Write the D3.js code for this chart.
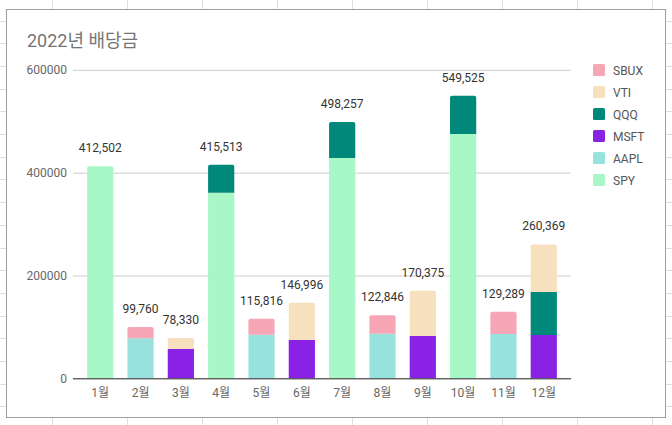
<!DOCTYPE html>
<html>
<head>
<meta charset="utf-8">
<script src="https://cdn.jsdelivr.net/npm/d3@7"></script>
<style>
  body { margin: 0; background: #fff; }
  svg { display: block; font-family: Roboto, "Noto Sans CJK KR", sans-serif; }
</style>
</head>
<body>
<svg id="chart"></svg>
<script>
// months on the x axis
var months = ["1월", "2월", "3월", "4월", "5월", "6월", "7월", "8월", "9월", "10월", "11월", "12월"];

// dividends per ticker (stack order bottom -> top)
var SPY  = [412502, 0, 0, 361000, 0, 0, 428400, 0, 0, 475100, 0, 0];
var AAPL = [0, 77800, 0, 0, 84800, 0, 0, 86700, 0, 0, 86200, 0];
var MSFT = [0, 0, 57000, 0, 0, 74500, 0, 0, 82300, 0, 0, 84200];
var QQQ  = [0, 0, 0, 54513, 0, 0, 69857, 0, 0, 74425, 0, 83600];
var VTI  = [0, 0, 21330, 0, 0, 72496, 0, 0, 88075, 0, 0, 92569];
var SBUX = [0, 21960, 0, 0, 31016, 0, 0, 36146, 0, 0, 43089, 0];

var totals = [412502, 99760, 78330, 415513, 115816, 146996, 498257, 122846, 170375, 549525, 129289, 260369];
var yTicks = [0, 200000, 400000, 600000];

var keys = ["SPY", "AAPL", "MSFT", "QQQ", "VTI", "SBUX"];
var legendKeys = ["SBUX", "VTI", "QQQ", "MSFT", "AAPL", "SPY"];
var colors = {
  SBUX: "#f7a6b6",
  VTI: "#f6e0bd",
  QQQ: "#00897b",
  MSFT: "#8a22e5",
  AAPL: "#98e2dd",
  SPY: "#a8f7c6"
};

var width = 672, height = 425;

var svg = d3.select("#chart")
  .attr("width", width)
  .attr("height", height);

// spreadsheet grid behind the chart
var sheet = svg.append("g").attr("stroke", "#dedede").attr("stroke-width", 1);
d3.range(52.5, width, 75).forEach(function(x) {
  sheet.append("line").attr("x1", x).attr("x2", x).attr("y1", 0).attr("y2", height);
});
d3.range(20.5, height, 22.7).forEach(function(y) {
  sheet.append("line").attr("x1", 0).attr("x2", width).attr("y1", Math.round(y) + 0.5).attr("y2", Math.round(y) + 0.5);
});

// chart frame
svg.append("rect")
  .attr("x", 6.5)
  .attr("y", 9.5)
  .attr("width", 659)
  .attr("height", 408)
  .attr("fill", "#fff")
  .attr("stroke", "#9e9e9e");

svg.append("text")
  .attr("x", 27)
  .attr("y", 47)
  .style("font-size", "18px")
  .style("fill", "#757575")
  .text("2022년 배당금");

// build table for the stack
var table = months.map(function(m, i) {
  return { month: m, SPY: SPY[i], AAPL: AAPL[i], MSFT: MSFT[i], QQQ: QQQ[i], VTI: VTI[i], SBUX: SBUX[i], total: totals[i] };
});

var x = d3.scaleBand()
  .domain(months)
  .range([73, 571])
  .paddingInner(0.35)
  .paddingOuter(0.35);

var y = d3.scaleLinear()
  .domain([0, 600000])
  .range([378.3, 69.8]);

// gridlines + y labels
var yAxis = svg.append("g")
  .attr("transform", "translate(73,0)")
  .call(d3.axisLeft(y).tickValues(yTicks).tickSize(-498).tickFormat(d3.format("d")).tickPadding(6));
yAxis.select(".domain").remove();
yAxis.selectAll(".tick line").attr("stroke", "#cccccc");
yAxis.selectAll(".tick text")
  .style("font-size", "12px")
  .style("fill", "#666")
  .style("font-family", "Roboto, sans-serif");

var stack = d3.stack().keys(keys)(table);

// index of top non-zero layer for each month
var topKey = table.map(function(d) {
  var t = null;
  keys.forEach(function(k) { if (d[k] > 0) t = k; });
  return t;
});

function barPath(x0, y0, w, h, r) {
  return "M" + x0 + "," + (y0 + h) +
    "V" + (y0 + r) +
    "Q" + x0 + "," + y0 + " " + (x0 + r) + "," + y0 +
    "H" + (x0 + w - r) +
    "Q" + (x0 + w) + "," + y0 + " " + (x0 + w) + "," + (y0 + r) +
    "V" + (y0 + h) + "Z";
}

svg.append("g").selectAll("g")
  .data(stack)
  .join("g")
  .attr("fill", function(s) { return colors[s.key]; })
  .each(function(s) {
    d3.select(this).selectAll("path")
      .data(s.filter(function(d) { return d[1] - d[0] > 0; }))
      .join("path")
      .attr("d", function(d) {
        var top = y(d[1]), bot = y(d[0]);
        var r = topKey[months.indexOf(d.data.month)] === s.key ? 2 : 0;
        return barPath(x(d.data.month), top, x.bandwidth(), bot - top, r);
      });
  });

// total labels
svg.append("g").selectAll("text")
  .data(table)
  .join("text")
  .attr("x", function(d) { return x(d.month) + x.bandwidth() / 2; })
  .attr("y", function(d) { return y(d.total) - 14; })
  .attr("text-anchor", "middle")
  .style("font-size", "12px")
  .style("fill", "#333")
  .text(function(d) { return d3.format(",")(d.total); });

// x axis
var xAxis = svg.append("g")
  .attr("transform", "translate(0," + y(0) + ")")
  .call(d3.axisBottom(x).tickSize(0).tickPadding(10));
xAxis.select(".domain").attr("stroke", "#333").attr("d", "M73,0.5H571");
xAxis.selectAll(".tick text")
  .style("font-size", "12px")
  .style("fill", "#666")
  .style("font-family", "Roboto, 'Noto Sans CJK KR', sans-serif");

// legend
var legend = svg.append("g").selectAll("g")
  .data(legendKeys)
  .join("g")
  .attr("transform", function(d, i) { return "translate(593," + (70 + i * 22) + ")"; });

legend.append("rect")
  .attr("x", 0)
  .attr("y", -6)
  .attr("width", 12)
  .attr("height", 12)
  .attr("rx", 1.5)
  .attr("fill", function(d) { return colors[d]; });

legend.append("text")
  .attr("x", 20)
  .attr("y", 4.5)
  .style("font-size", "12px")
  .style("fill", "#555")
  .text(function(d) { return d; });
</script>
</body>
</html>
